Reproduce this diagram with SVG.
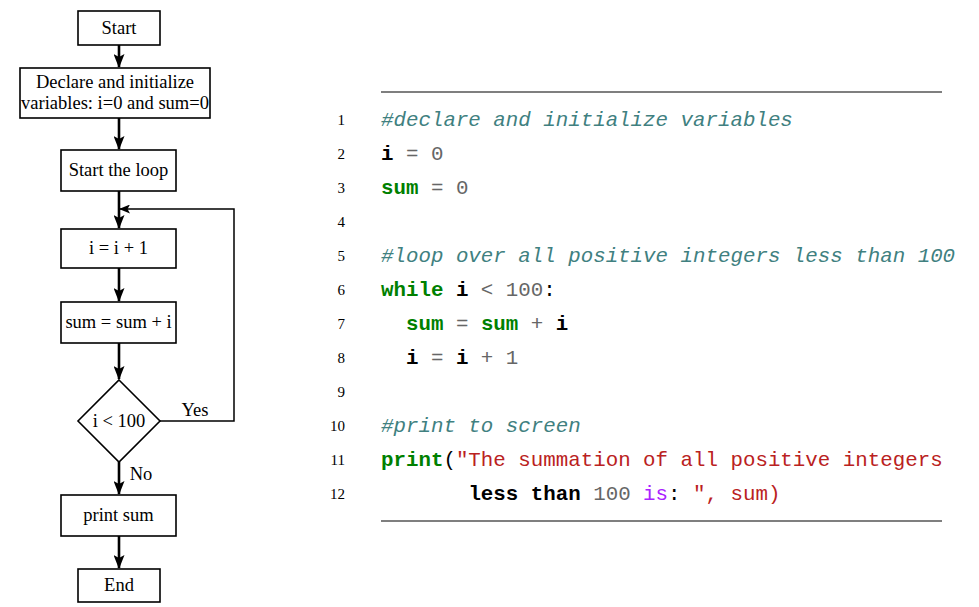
<svg xmlns="http://www.w3.org/2000/svg" width="979" height="607" viewBox="0 0 979 607">
<style>
.box{fill:#fff;stroke:#000;stroke-width:1.6}
.lbl{font-family:"Liberation Serif","Times New Roman",serif;font-size:18.5px;fill:#000;text-anchor:middle}
.edge{stroke:#000;stroke-width:2.6;fill:none}
.thin{stroke:#000;stroke-width:1.5;fill:none}
.code{font-family:"Liberation Mono","DejaVu Sans Mono",monospace;font-size:20.8px;white-space:pre}
.ln{font-family:"Liberation Serif",serif;font-size:15px;text-anchor:end;fill:#000}
.cm{fill:#408080;font-style:italic}
.kw{fill:#008000;font-weight:bold}
.nm{fill:#000;font-weight:bold}
.op{fill:#666}
.st{fill:#BA2121}
.pu{fill:#AA22FF}
.pl{fill:#000}
.rule{stroke:#555;stroke-width:1.6}
</style>
<defs>
<marker id="ah2" markerWidth="14" markerHeight="11" refX="13" refY="5.5" orient="auto" markerUnits="userSpaceOnUse" viewBox="0 0 14 11">
<path d="M0,0 L14,5.5 L0,11 L3,5.5 Z" fill="#000"/>
</marker>
<marker id="ah3" markerWidth="11" markerHeight="9" refX="10" refY="4.5" orient="auto" markerUnits="userSpaceOnUse" viewBox="0 0 11 9">
<path d="M0,0 L11,4.5 L0,9 L2.5,4.5 Z" fill="#000"/>
</marker>
</defs>

<g id="connectors">
<line class="edge" x1="119" y1="45" x2="119" y2="67" marker-end="url(#ah2)"/>
<line class="edge" x1="119" y1="118" x2="119" y2="149" marker-end="url(#ah2)"/>
<line class="edge" x1="119" y1="191" x2="119" y2="228" marker-end="url(#ah2)"/>
<line class="edge" x1="119" y1="268" x2="119" y2="301" marker-end="url(#ah2)"/>
<line class="edge" x1="119" y1="343" x2="119" y2="379" marker-end="url(#ah2)"/>
<line class="edge" x1="119" y1="462" x2="119" y2="494" marker-end="url(#ah2)"/>
<line class="edge" x1="119" y1="536" x2="119" y2="568" marker-end="url(#ah2)"/>
<polyline class="thin" points="160,421 234,421 234,209 120,209" marker-end="url(#ah3)"/>
<text class="lbl" x="195" y="416">Yes</text>
<text class="lbl" x="141" y="480">No</text>
</g>

<g id="start"><rect class="box" x="78" y="11" width="82" height="34"/><text class="lbl" x="119" y="34">Start</text></g>
<g id="declare"><rect class="box" x="20" y="68" width="190" height="50"/><text class="lbl" x="115" y="88">Declare and initialize</text><text class="lbl" x="115" y="109">variables: i=0 and sum=0</text></g>
<g id="startloop"><rect class="box" x="61" y="150" width="115" height="41"/><text class="lbl" x="118.5" y="176">Start the loop</text></g>
<g id="inc"><rect class="box" x="61" y="229" width="115" height="39"/><text class="lbl" x="118.5" y="254">i = i + 1</text></g>
<g id="sum"><rect class="box" x="61" y="302" width="115" height="41"/><text class="lbl" x="118.5" y="328">sum = sum + i</text></g>
<g id="cond"><polygon class="box" points="119,380 160,421 119,462 78,421"/><text class="lbl" x="119" y="427">i &lt; 100</text></g>
<g id="print"><rect class="box" x="61" y="495" width="115" height="41"/><text class="lbl" x="118.5" y="521">print sum</text></g>
<g id="end"><rect class="box" x="78" y="569" width="82" height="33"/><text class="lbl" x="119" y="591">End</text></g>

<g id="code">
<line class="rule" x1="381" y1="92" x2="942" y2="92"/>
<line class="rule" x1="381" y1="521" x2="942" y2="521"/>
<text class="ln" x="345" y="125">1</text>
<text class="ln" x="345" y="159">2</text>
<text class="ln" x="345" y="193">3</text>
<text class="ln" x="345" y="227">4</text>
<text class="ln" x="345" y="261">5</text>
<text class="ln" x="345" y="295">6</text>
<text class="ln" x="345" y="329">7</text>
<text class="ln" x="345" y="363">8</text>
<text class="ln" x="345" y="397">9</text>
<text class="ln" x="345" y="431">10</text>
<text class="ln" x="345" y="465">11</text>
<text class="ln" x="345" y="499">12</text>

<text class="code" x="381" y="126"><tspan class="cm">#declare and initialize variables</tspan></text>
<text class="code" x="381" y="160"><tspan class="nm">i</tspan><tspan class="op"> = 0</tspan></text>
<text class="code" x="381" y="194"><tspan class="kw">sum</tspan><tspan class="op"> = 0</tspan></text>
<text class="code" x="381" y="262"><tspan class="cm">#loop over all positive integers less than 100</tspan></text>
<text class="code" x="381" y="296"><tspan class="kw">while</tspan><tspan class="pl"> </tspan><tspan class="nm">i</tspan><tspan class="op"> &lt; 100</tspan><tspan class="pl">:</tspan></text>
<text class="code" x="381" y="330"><tspan class="pl">  </tspan><tspan class="kw">sum</tspan><tspan class="op"> = </tspan><tspan class="kw">sum</tspan><tspan class="op"> + </tspan><tspan class="nm">i</tspan></text>
<text class="code" x="381" y="364"><tspan class="pl">  </tspan><tspan class="nm">i</tspan><tspan class="op"> = </tspan><tspan class="nm">i</tspan><tspan class="op"> + 1</tspan></text>
<text class="code" x="381" y="432"><tspan class="cm">#print to screen</tspan></text>
<text class="code" x="381" y="466"><tspan class="kw">print</tspan><tspan class="pl">(</tspan><tspan class="st">"The summation of all positive integers</tspan></text>
<text class="code" x="381" y="500"><tspan class="pl">       </tspan><tspan class="nm">less than</tspan><tspan class="op"> 100 </tspan><tspan class="pu">is</tspan><tspan class="pl">: </tspan><tspan class="st">", sum)</tspan></text>
</g>
</svg>
